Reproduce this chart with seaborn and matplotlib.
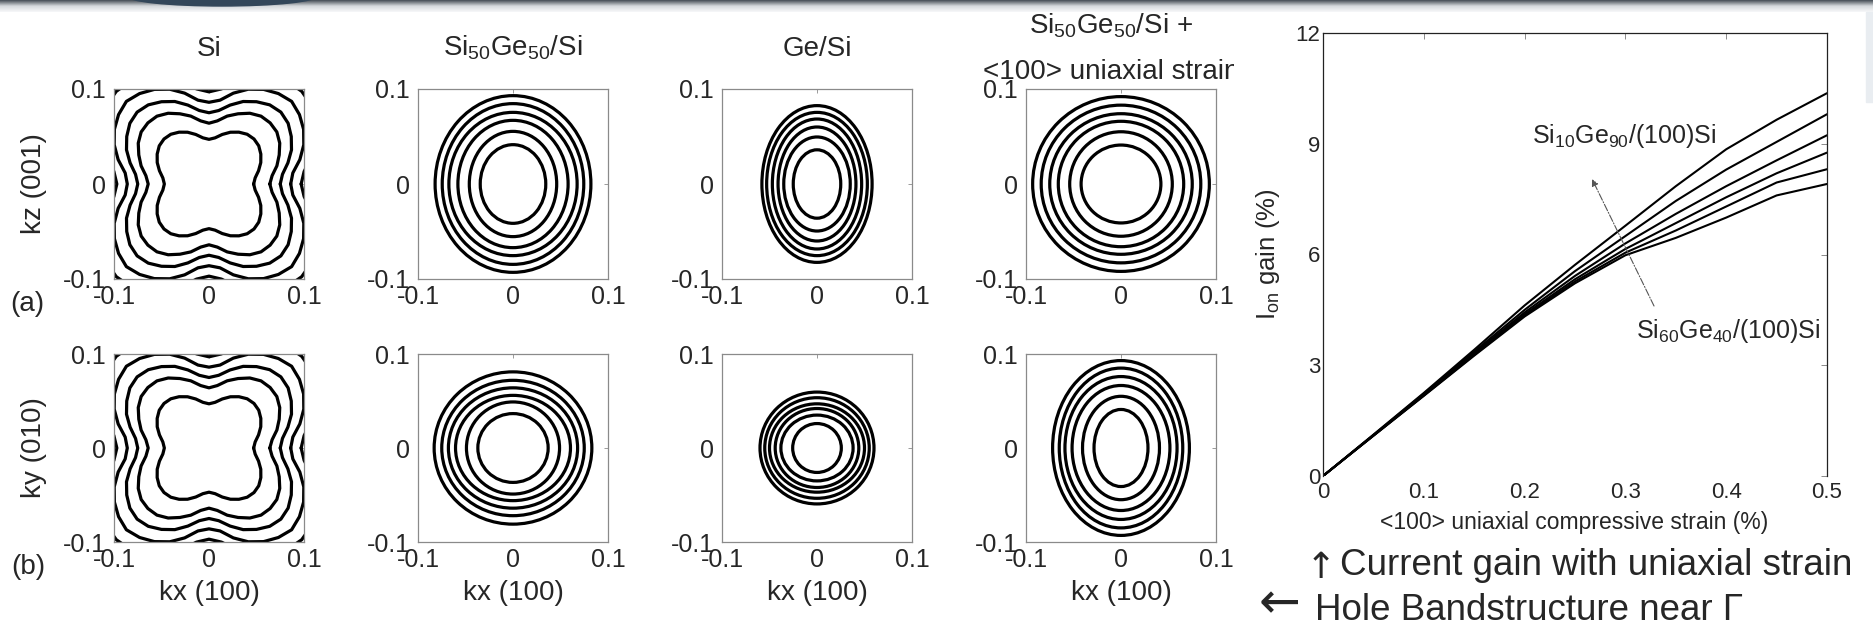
import numpy as np
import pandas as pd
import matplotlib
matplotlib.use("Agg")
import matplotlib.pyplot as plt
import seaborn as sns
from matplotlib.patches import Ellipse, Rectangle
from matplotlib.transforms import Bbox, TransformedBbox
from matplotlib.colors import LinearSegmentedColormap

# ---- data ----
# Si heavy-hole contours: radius at 0..45 deg from the kx axis (mirrored by symmetry)
si_angles = [0, 7.5, 15, 22.5, 30, 37.5, 45]
si_radii = [
    [0.047, 0.049, 0.054, 0.059, 0.063, 0.066, 0.067],
    [0.064, 0.067, 0.074, 0.080, 0.086, 0.090, 0.091],
    [0.075, 0.078, 0.086, 0.094, 0.100, 0.105, 0.107],
    [0.086, 0.089, 0.099, 0.108, 0.115, 0.120, 0.123],
    [0.097, 0.101, 0.112, 0.122, 0.130, 0.136, 0.138],
]

# elliptical contours: semi-axes along kx and along the vertical k, inner -> outer
sige_a_kx = [0.0345, 0.046, 0.058, 0.0675, 0.0745, 0.082]
sige_a_kz = [0.0414, 0.0554, 0.067, 0.0754, 0.0846, 0.093]
ge_a_kx = [0.025, 0.035, 0.041, 0.047, 0.053, 0.058]
ge_a_kz = [0.036, 0.0495, 0.060, 0.0684, 0.0754, 0.0825]
strain_a_kx = [0.042, 0.054, 0.066, 0.075, 0.084, 0.093]
strain_a_kz = [0.041, 0.055, 0.066, 0.074, 0.083, 0.092]
sige_b_kx = [0.037, 0.049, 0.0605, 0.068, 0.075, 0.083]
sige_b_ky = [0.0366, 0.049, 0.056, 0.064, 0.072, 0.081]
ge_b_kx = [0.0256, 0.038, 0.044, 0.050, 0.055, 0.060]
ge_b_ky = [0.026, 0.035, 0.042, 0.047, 0.0535, 0.0595]
strain_b_kx = [0.0284, 0.0405, 0.0515, 0.059, 0.065, 0.072]
strain_b_ky = [0.041, 0.055, 0.0665, 0.076, 0.085, 0.093]

k_ticks = [-0.1, 0, 0.1]
k_tick_labels = ["-0.1", "0", "0.1"]
col_titles = ["Si", r"Si$_{50}$Ge$_{50}$/Si", "Ge/Si", r"Si$_{50}$Ge$_{50}$/Si +"]

# Ion gain vs <100> uniaxial compressive strain
strain_pct = [0, 0.05, 0.1, 0.15, 0.2, 0.25, 0.3, 0.35, 0.4, 0.45, 0.5]
alloys = ["Si10Ge90", "Si20Ge80", "Si30Ge70", "Si40Ge60", "Si50Ge50", "Si60Ge40"]
gain_ge90 = [0, 1.12, 2.25, 3.42, 4.62, 5.72, 6.78, 7.85, 8.85, 9.65, 10.37]
gain_ge80 = [0, 1.11, 2.23, 3.37, 4.50, 5.55, 6.50, 7.45, 8.30, 9.05, 9.80]
gain_ge70 = [0, 1.10, 2.20, 3.33, 4.43, 5.42, 6.30, 7.10, 7.85, 8.55, 9.23]
gain_ge60 = [0, 1.10, 2.19, 3.30, 4.38, 5.33, 6.15, 6.85, 7.55, 8.20, 8.76]
gain_ge50 = [0, 1.09, 2.18, 3.28, 4.35, 5.27, 6.05, 6.65, 7.30, 7.95, 8.31]
gain_ge40 = [0, 1.09, 2.17, 3.26, 4.32, 5.22, 5.98, 6.45, 7.00, 7.60, 7.91]
gain_x_ticks = [0, 0.1, 0.2, 0.3, 0.4, 0.5]
gain_x_labels = ["0", "0.1", "0.2", "0.3", "0.4", "0.5"]
gain_y_ticks = [0, 3, 6, 9, 12]
gain_y_labels = ["0", "3", "6", "9", "12"]

# ---- style ----
sns.set_style("white")
plt.rcParams["font.family"] = ["Liberation Sans", "DejaVu Sans"]
plt.rcParams["mathtext.fontset"] = "custom"
plt.rcParams["mathtext.rm"] = "Liberation Sans"
plt.rcParams["mathtext.it"] = "Liberation Sans:italic"
plt.rcParams["mathtext.bf"] = "Liberation Sans:bold"
plt.rcParams["axes.unicode_minus"] = False

W, H = 1874, 626
fig = plt.figure(figsize=(W / 100, H / 100), dpi=100)
fig.patch.set_facecolor("white")


def px_axes(x0, y0, x1, y1, **kw):
    return fig.add_axes([x0 / W, 1 - y1 / H, (x1 - x0) / W, (y1 - y0) / H], **kw)


# slide decoration at the very top
deco = px_axes(0, 0, W, H, zorder=-5)
grad = np.linspace(0, 1, 50).reshape(-1, 1)
bar_cmap = LinearSegmentedColormap.from_list("bar", ["#454d55", "#d5d9dc", "#f7f8f9"])
deco.imshow(grad, extent=[0, W, 12, 0], aspect="auto", cmap=bar_cmap)
deco.add_patch(Ellipse((222, -4), 190, 20, color="#33475a"))
deco.add_patch(Rectangle((1866, 12), 8, 90, color="#e9edf1"))
deco.set_xlim(0, W)
deco.set_ylim(H, 0)
deco.axis("off")


def draw_si(ax):
    rows = []
    for i, r in enumerate(si_radii):
        quarter = r + r[-2::-1]
        full = quarter[:-1] * 4 + [quarter[0]]
        ang = np.deg2rad(np.arange(0, 360.1, 7.5))
        for t, rr in zip(ang, full):
            rows.append((i, rr * np.cos(t), rr * np.sin(t)))
    df = pd.DataFrame(rows, columns=["ring", "k1", "k2"])
    sns.lineplot(data=df, x="k1", y="k2", units="ring", estimator=None, sort=False,
                 color="black", lw=2.3, ax=ax, legend=False)


def draw_rings(ax, akx, akv):
    for a, b in zip(akx, akv):
        ax.add_patch(Ellipse((0, 0), 2 * a, 2 * b, fill=False, ec="black", lw=2.3))


def style_box(ax):
    ax.set_xlim(-0.1, 0.1)
    ax.set_ylim(-0.1, 0.1)
    ax.set_xticks(k_ticks)
    ax.set_yticks(k_ticks)
    ax.set_xticklabels(k_tick_labels)
    ax.set_yticklabels(k_tick_labels)
    ax.tick_params(direction="in", length=3, width=0.6, color="#8a8a8a",
                   top=True, right=True, labelsize=18)
    ax.tick_params(axis="x", pad=4)
    ax.tick_params(axis="y", pad=6)
    for s in ax.spines.values():
        s.set_color("#8a8a8a")
        s.set_linewidth(0.9)
    ax.set_xlabel("")
    ax.set_ylabel("")


col_x = [114, 418, 722, 1026]
row_y = [(89, 279), (354, 542)]
rings = {
    (0, 1): (sige_a_kx, sige_a_kz), (0, 2): (ge_a_kx, ge_a_kz), (0, 3): (strain_a_kx, strain_a_kz),
    (1, 1): (sige_b_kx, sige_b_ky), (1, 2): (ge_b_kx, ge_b_ky), (1, 3): (strain_b_kx, strain_b_ky),
}
for r, (y0, y1) in enumerate(row_y):
    for c, x0 in enumerate(col_x):
        ax = px_axes(x0, y0, x0 + 190, y1)
        if c == 0:
            draw_si(ax)
        else:
            draw_rings(ax, *rings[(r, c)])
        style_box(ax)
        if c == 0:
            ax.set_ylabel("kz (001)" if r == 0 else "ky (010)", fontsize=20)
            ax.yaxis.set_label_coords(-0.42, 0.5)
            ax.yaxis.label.set_va("center")
        if r == 1:
            ax.set_xlabel("kx (100)", fontsize=20)
            ax.xaxis.set_label_coords(0.5, -0.27)
            ax.xaxis.label.set_va("center")

# column titles
title_x = [209, 513, 817, 1111]
for c in range(4):
    yb = 56 if c < 3 else 34
    fig.text(title_x[c] / W, 1 - yb / H, col_titles[c], ha="center", va="baseline", fontsize=20)
t2 = fig.text(1111 / W, 1 - 79 / H, "<100> uniaxial strain", ha="center",
              va="baseline", fontsize=20, clip_on=True)
t2.set_clip_box(TransformedBbox(Bbox([[0, 0], [1234 / W, 1]]), fig.transFigure))

fig.text(27 / W, 1 - 304 / H, "(a)", ha="center", va="center", fontsize=20)
fig.text(28 / W, 1 - 567 / H, "(b)", ha="center", va="center", fontsize=20)

# ---- right: Ion gain vs strain ----
axr = px_axes(1323, 33, 1827, 476)
gain_rows = []
for name, vals in zip(alloys, [gain_ge90, gain_ge80, gain_ge70, gain_ge60, gain_ge50, gain_ge40]):
    for s, g in zip(strain_pct, vals):
        gain_rows.append((name, s, g))
gain_df = pd.DataFrame(gain_rows, columns=["alloy", "strain", "gain"])
sns.lineplot(data=gain_df, x="strain", y="gain", units="alloy", estimator=None,
             color="black", lw=1.5, ax=axr, legend=False)
axr.set_xlim(0, 0.5)
axr.set_ylim(0, 12)
axr.set_xticks(gain_x_ticks)
axr.set_xticklabels(gain_x_labels)
axr.set_yticks(gain_y_ticks)
axr.set_yticklabels(gain_y_labels)
axr.tick_params(direction="in", length=4, width=0.6, color="#777777",
                top=True, right=True, labelsize=16)
axr.tick_params(axis="x", pad=4)
axr.tick_params(axis="y", pad=2)
for side in ["left", "top", "right"]:
    axr.spines[side].set_color("#222222")
    axr.spines[side].set_linewidth(0.9)
axr.spines["bottom"].set_visible(False)
axr.set_xlabel("<100> uniaxial compressive strain (%)", fontsize=16.5)
axr.xaxis.set_label_coords(0.498, -0.104)
axr.xaxis.label.set_va("center")
axr.set_ylabel(r"I$_{\mathrm{on}}$ gain (%)", fontsize=18.5)
axr.yaxis.set_label_coords(-0.109, 0.5)
axr.yaxis.label.set_va("center")

axr.text(0.2073, 9.02, r"Si$_{10}$Ge$_{90}$/(100)Si", fontsize=18, va="baseline")
axr.text(0.3105, 3.74, r"Si$_{60}$Ge$_{40}$/(100)Si", fontsize=18, va="baseline")
axr.annotate("", xy=(0.2669, 8.045), xytext=(0.3284, 4.605),
             arrowprops=dict(arrowstyle="-|>", lw=0.8, ls="-.", color="#555555",
                             mutation_scale=10, shrinkA=0, shrinkB=0))

# slide captions
fig.text(1306 / W, 1 - 578 / H, "\u2191", ha="left", va="baseline", fontsize=26,
         family=["DejaVu Sans"])
fig.text(1340 / W, 1 - 575 / H, "Current gain with uniaxial strain",
         ha="left", va="baseline", fontsize=26.5)
fig.text(1259 / W, 1 - 618 / H, "\u2190", ha="left", va="baseline", fontsize=36,
         family=["DejaVu Sans"])
fig.text(1315 / W, 1 - 620 / H, "Hole Bandstructure near \u0393",
         ha="left", va="baseline", fontsize=26.5)

fig.savefig("out.png", dpi=100, facecolor="white")
